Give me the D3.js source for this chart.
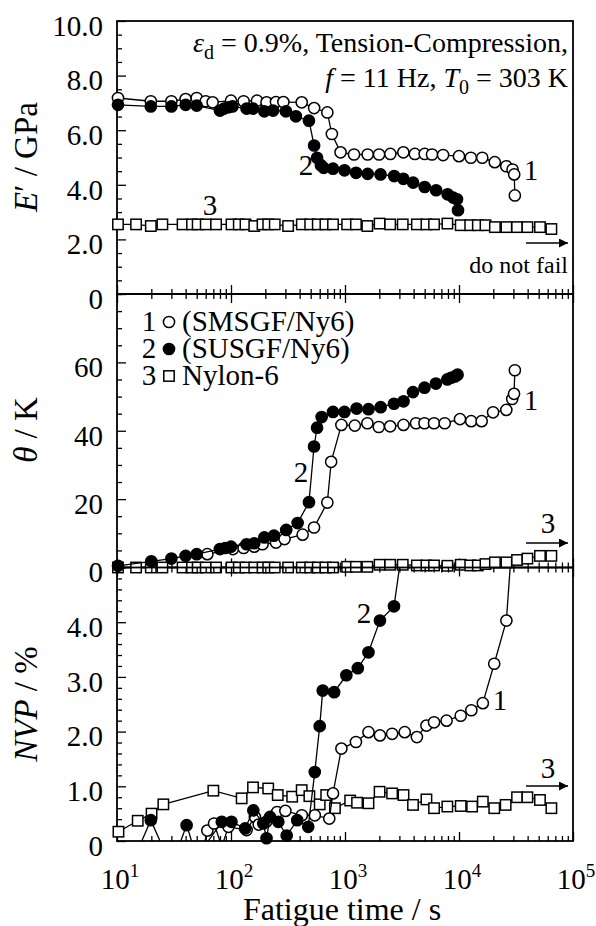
<!DOCTYPE html>
<html>
<head>
<meta charset="utf-8">
<script src="https://cdn.jsdelivr.net/npm/d3@7"></script>
<style>
body { margin: 0; background: #fff; }
svg { display: block; }
</style>
</head>
<body>
<svg id="chart" width="596" height="926"></svg>
<script>
// fatigue time (s) for Nylon-6 in E' and theta panels
const tNylon = [10.2, 14.7, 19.8, 25, 37.6, 45.5, 51, 60, 74, 101, 117, 134, 160, 189, 212, 242, 317, 418, 495, 577, 673, 785,
    1044, 1247, 1570, 2010, 2490, 3210, 4270, 5180, 6040, 7910, 10350, 12540, 14630, 17070, 20650, 26050, 32300, 39800, 51300, 64600];
const eNylon = [2.55, 2.55, 2.49, 2.55, 2.55, 2.55, 2.55, 2.55, 2.55, 2.55, 2.55, 2.55, 2.49, 2.55, 2.55, 2.55, 2.49, 2.55, 2.55, 2.55, 2.55, 2.55,
    2.55, 2.55, 2.49, 2.58, 2.55, 2.55, 2.55, 2.55, 2.55, 2.58, 2.52, 2.52, 2.52, 2.52, 2.45, 2.45, 2.45, 2.45, 2.45, 2.38];
const thNylon = [0, 0, 0, 0, 0, 0, 0, 0, 0, 0, 0, 0, 0, 0, 0, 0, 0, 0, 0, 0, 0, 0,
    0.2, 0.2, 0.2, 0.8, 0.8, 0.8, 0.6, 0.6, 0.6, 0.5, 0.8, 0.6, 0.6, 1.0, 1.5, 1.5, 2.2, 2.6, 3.4, 3.4];

// SMSGF/Ny6 (curve 1)
const tE1 = [10.2, 19.8, 30, 40, 50, 60, 69, 100, 129, 169, 205, 248, 288, 417, 536, 700, 767, 914, 1200, 1580,
    1990, 2500, 3250, 4100, 5000, 5800, 7250, 10000, 12700, 16000, 20600, 26000, 29500, 30500, 30900];
const e1 = [7.18, 7.06, 7.06, 7.14, 7.18, 7.06, 7.02, 7.08, 7.06, 7.08, 7.02, 7.03, 7.03, 7.02, 6.81, 6.65, 5.86, 5.19, 5.11, 5.11,
    5.11, 5.13, 5.19, 5.13, 5.13, 5.11, 5.09, 5.05, 4.99, 4.99, 4.83, 4.68, 4.56, 4.38, 3.61];
const tTh1 = [62, 104, 129, 160, 189, 248, 295, 425, 535, 700, 756, 930, 1219, 1571, 1978, 2490, 3260, 4200, 4980, 6040,
    7490, 10200, 12800, 15800, 19900, 26000, 29300, 30400, 30900];
const th1 = [3.9, 5.4, 5.7, 6.1, 6.8, 7.3, 8.3, 9.6, 11.7, 19.0, 30.9, 41.7, 41.5, 42.2, 41.1, 41.3, 41.7, 42.2, 42.2, 42.2,
    42.2, 43.4, 42.8, 42.8, 45.4, 46.1, 49.3, 50.8, 57.7];
const tN1 = [55, 62, 71, 83, 95, 137, 162, 175, 204, 254, 300, 418, 543, 728, 785, 930, 1247, 1607, 2025, 2590,
    3340, 4270, 5180, 6040, 7780, 10350, 12830, 16180, 20370, 26050, 29900];
const n1 = [-0.3, 0.19, 0.32, -0.1, 0.26, 0.2, 0.44, 0.30, 0.35, 0.53, 0.55, 0.47, 0.47, 0.41, 0.87, 1.69, 1.81, 1.99, 1.93, 1.96,
    1.99, 1.90, 2.11, 2.17, 2.20, 2.29, 2.39, 2.52, 3.24, 4.03, 5.8];

// SUSGF/Ny6 (curve 2)
const tE2 = [10.2, 19.8, 30, 40, 50, 80, 87, 95, 103, 137, 156, 196, 234, 303, 371, 483, 536, 569, 615, 650,
    785, 990, 1250, 1580, 2050, 2700, 3250, 3960, 5000, 6300, 7950, 8900, 9600, 9800];
const e2 = [6.93, 6.87, 6.87, 6.93, 6.90, 6.72, 6.79, 6.84, 6.87, 6.79, 6.79, 6.69, 6.72, 6.69, 6.51, 6.35, 5.44, 4.99, 4.72, 4.62,
    4.59, 4.53, 4.44, 4.40, 4.38, 4.32, 4.22, 4.08, 3.92, 3.80, 3.65, 3.53, 3.47, 3.07];
const tTh2 = [10.2, 20, 30, 40, 50, 80, 89, 100, 137, 160, 196, 238, 305, 384, 483, 535, 569, 624, 785, 989, 1264,
    1607, 2055, 2690, 3260, 3950, 4980, 6270, 7900, 8520, 9220, 9720];
const th2 = [0.5, 1.8, 2.6, 3.4, 3.9, 5.4, 5.7, 6.1, 6.8, 7.1, 8.8, 9.3, 11.0, 13.0, 19.1, 35.4, 40.9, 44.0, 45.5, 45.5, 46.5,
    46.3, 46.9, 47.9, 48.6, 51.3, 52.6, 53.8, 55.0, 55.5, 55.9, 56.4];
const tN2 = [10.2, 19.8, 30, 40.8, 50, 83, 101, 133, 157, 192, 205, 220, 260, 308, 381, 476, 543, 600, 638, 803,
    1028, 1295, 1607, 2025, 2690, 3250];
const n2 = [-1.0, 0.38, -0.47, 0.29, -0.3, 0.35, 0.35, 0.23, 0.56, 0.32, 0.05, 0.44, 0.35, 0.1, 0.38, 0.26, 1.26, 2.10, 2.75, 2.72,
    3.03, 3.16, 3.45, 4.03, 4.29, 5.5];

// Nylon-6 NVP (curve 3)
const tN3 = [10.3, 15.2, 20.1, 25.5, 70, 124, 156, 212, 257, 344, 417, 487, 600, 684, 816, 1110, 1276, 1607, 2010, 2590,
    3260, 3950, 5180, 6040, 7900, 10350, 13030, 16180, 20380, 25660, 32300, 39800, 51300, 64600];
const n3 = [0.17, 0.37, 0.50, 0.67, 0.92, 0.78, 0.98, 0.96, 0.84, 0.81, 0.93, 0.82, 0.67, 0.84, 0.60, 0.74, 0.70, 0.69, 0.90, 0.87,
    0.84, 0.66, 0.76, 0.60, 0.63, 0.64, 0.63, 0.72, 0.60, 0.66, 0.80, 0.80, 0.75, 0.60];

const legendLabels = ["(SMSGF/Ny6)", "(SUSGF/Ny6)", "Nylon-6"];

const serif = "Liberation Serif";
const svg = d3.select("#chart");
const plotLeft = 117;
const plotRight = 573;

const x = d3.scaleLog().domain([10, 1e5]).range([plotLeft, plotRight]);

const panels = [
    {
        top: 21, bottom: 294, domain: [0, 10], minorStep: 0.5, labels: [0, 2, 4, 6, 8, 10],
        fmt: d => d === 0 ? "0" : d.toFixed(1),
        series: [
            { t: tNylon, v: eNylon, kind: "square" },
            { t: tE1, v: e1, kind: "open" },
            { t: tE2, v: e2, kind: "filled" }
        ],
        topTicks: false
    },
    {
        top: 294, bottom: 567.5, domain: [0, 80], minorStep: 5, labels: [0, 20, 40, 60],
        fmt: d => String(d),
        series: [
            { t: tNylon, v: thNylon, kind: "square" },
            { t: tTh1, v: th1, kind: "open" },
            { t: tTh2, v: th2, kind: "filled" }
        ],
        topTicks: true
    },
    {
        top: 567.5, bottom: 841, domain: [0, 5], minorStep: 0.2, labels: [0, 1, 2, 3, 4],
        fmt: d => d === 0 ? "0" : d.toFixed(1),
        series: [
            { t: tN3, v: n3, kind: "square" },
            { t: tN1, v: n1, kind: "open" },
            { t: tN2, v: n2, kind: "filled" }
        ],
        topTicks: true
    }
];

const decades = x.ticks().filter(d => Math.abs(Math.log10(d) - Math.round(Math.log10(d))) < 1e-9);
const minorX = x.ticks().filter(d => !decades.includes(d));

function addText(sel, size) {
    return sel.append("text")
        .attr("font-family", serif)
        .attr("font-size", size)
        .attr("fill", "#000");
}

function drawMarker(sel, kind) {
    if (kind === "square") {
        sel.append("rect")
            .attr("x", -5.2).attr("y", -5.2)
            .attr("width", 10.4).attr("height", 10.4)
            .attr("fill", "#fff").attr("stroke", "#000").attr("stroke-width", 1.5);
    } else {
        sel.append("circle")
            .attr("r", 5.6)
            .attr("fill", kind === "filled" ? "#000" : "#fff")
            .attr("stroke", "#000").attr("stroke-width", 1.5);
    }
}

panels.forEach((p, i) => {
    const y = d3.scaleLinear().domain(p.domain).range([p.bottom, p.top]);
    const g = svg.append("g");

    const clipId = "clip" + i;
    svg.append("clipPath").attr("id", clipId)
        .append("rect")
        .attr("x", plotLeft).attr("y", p.top)
        .attr("width", plotRight - plotLeft).attr("height", p.bottom - p.top);

    // minor y ticks
    const minorY = d3.range(p.domain[0], p.domain[1] + p.minorStep / 2, p.minorStep)
        .filter(d => !p.labels.some(l => Math.abs(l - d) < 1e-9));
    g.append("g")
        .attr("transform", `translate(${plotLeft},0)`)
        .call(d3.axisLeft(y).tickValues(minorY).tickSizeInner(-5).tickSizeOuter(0).tickFormat(""))
        .call(a => a.select(".domain").remove())
        .call(a => a.selectAll("line").attr("stroke-width", 1.3));

    // major y ticks + labels
    g.append("g")
        .attr("transform", `translate(${plotLeft},0)`)
        .call(d3.axisLeft(y).tickValues(p.labels).tickSizeInner(-9).tickSizeOuter(0).tickPadding(14).tickFormat(p.fmt))
        .call(a => a.select(".domain").remove())
        .call(a => a.attr("font-family", serif).attr("font-size", 29))
        .call(a => a.selectAll("line").attr("stroke-width", 1.3))
        .call(a => a.selectAll("text")
            .attr("y", 5)
            .attr("font-family", serif)
            .attr("font-size", 29));

    // x ticks at bottom (inward), and on top for the lower panels
    const tickSets = [[minorX, -5], [decades, -9]];
    tickSets.forEach(([vals, len]) => {
        g.append("g")
            .attr("transform", `translate(0,${p.bottom})`)
            .call(d3.axisBottom(x).tickValues(vals).tickSizeInner(len).tickSizeOuter(0).tickFormat(""))
            .call(a => a.select(".domain").remove())
            .call(a => a.selectAll("line").attr("stroke-width", 1.3));
        if (p.topTicks) {
            g.append("g")
                .attr("transform", `translate(0,${p.top})`)
                .call(d3.axisTop(x).tickValues(vals).tickSizeInner(len).tickSizeOuter(0).tickFormat(""))
                .call(a => a.select(".domain").remove())
                .call(a => a.selectAll("line").attr("stroke-width", 1.3));
        }
    });

    // frame
    g.append("rect")
        .attr("x", plotLeft).attr("y", p.top)
        .attr("width", plotRight - plotLeft).attr("height", p.bottom - p.top)
        .attr("fill", "none").attr("stroke", "#000").attr("stroke-width", 1.8);

    const line = d3.line().x(d => x(d[0])).y(d => y(d[1]));

    p.series.forEach(s => {
        const pts = s.t.map((t, j) => [t, s.v[j]]);
        g.append("path")
            .datum(pts)
            .attr("d", line)
            .attr("fill", "none")
            .attr("stroke", "#000")
            .attr("stroke-width", 1.3)
            .attr("clip-path", `url(#${clipId})`);

        const inside = pts.filter(d => d[1] >= p.domain[0] - 0.0001 && d[1] <= p.domain[1]);
        const m = g.selectAll(null)
            .data(inside)
            .enter()
            .append("g")
            .attr("transform", d => `translate(${x(d[0])},${y(d[1])})`);
        drawMarker(m, s.kind);
    });
});

// x tick labels on bottom panel
decades.forEach(d => {
    const txt = addText(svg, 29)
        .attr("x", x(d) + 3)
        .attr("y", 889)
        .attr("text-anchor", "middle");
    txt.append("tspan").text("10");
    txt.append("tspan").attr("dy", -12).attr("font-size", 19).text(Math.round(Math.log10(d)));
});

addText(svg, 32)
    .attr("x", 342).attr("y", 920)
    .attr("text-anchor", "middle")
    .text("Fatigue time / s");

// y titles
function yTitle(cy, parts) {
    const t = addText(svg, 33)
        .attr("transform", `translate(37,${cy}) rotate(-90)`)
        .attr("text-anchor", "middle");
    parts.forEach(([s, italic]) => {
        t.append("tspan").attr("font-style", italic ? "italic" : "normal").text(s);
    });
}
yTitle(157, [["E", true], ["\u2032 / GPa", false]]);
yTitle(430, [["\u03b8", true], [" / K", false]]);
yTitle(704, [["NVP", true], [" / %", false]]);

// annotation panel 1
const a1 = addText(svg, 28)
    .attr("x", 568).attr("y", 52)
    .attr("text-anchor", "end");
a1.append("tspan").attr("font-style", "italic").text("\u03b5");
a1.append("tspan").attr("dy", 7).attr("font-size", 20).text("d");
a1.append("tspan").attr("dy", -7).text(" = 0.9%, Tension-Compression,");

const a2 = addText(svg, 28)
    .attr("x", 568).attr("y", 87)
    .attr("text-anchor", "end");
a2.append("tspan").attr("font-style", "italic").text("f");
a2.append("tspan").text(" = 11 Hz, ");
a2.append("tspan").attr("font-style", "italic").text("T");
a2.append("tspan").attr("dy", 7).attr("font-size", 20).text("0");
a2.append("tspan").attr("dy", -7).text(" = 303 K");

// curve numbers
const curveLabels = [
    { x: 531, y: 180, s: "1" },
    { x: 306, y: 175, s: "2" },
    { x: 210, y: 215, s: "3" },
    { x: 301, y: 482, s: "2" },
    { x: 531, y: 410, s: "1" },
    { x: 548, y: 533, s: "3" },
    { x: 364, y: 623, s: "2" },
    { x: 500, y: 710, s: "1" },
    { x: 548, y: 778, s: "3" }
];
curveLabels.forEach(d => {
    addText(svg, 29)
        .attr("x", d.x).attr("y", d.y)
        .attr("text-anchor", "middle")
        .text(d.s);
});

// arrows
svg.append("defs").append("marker")
    .attr("id", "head")
    .attr("viewBox", "0 0 10 10")
    .attr("refX", 10).attr("refY", 5)
    .attr("markerWidth", 15).attr("markerHeight", 9)
    .attr("markerUnits", "userSpaceOnUse")
    .attr("orient", "auto")
    .append("path").attr("d", "M0,0 L10,5 L0,10 Z").attr("fill", "#000");

[243, 543, 786].forEach(yy => {
    svg.append("line")
        .attr("x1", 526).attr("x2", 568)
        .attr("y1", yy).attr("y2", yy)
        .attr("stroke", "#000").attr("stroke-width", 1.5)
        .attr("marker-end", "url(#head)");
});

addText(svg, 24)
    .attr("x", 568).attr("y", 273)
    .attr("text-anchor", "end")
    .text("do not fail");

// legend in theta panel
const kinds = ["open", "filled", "square"];
legendLabels.forEach((lab, i) => {
    const ly = 322 + i * 27;
    addText(svg, 29)
        .attr("x", 149).attr("y", ly + 9)
        .attr("text-anchor", "middle")
        .text(String(i + 1));
    const m = svg.append("g").attr("transform", `translate(169,${ly})`);
    drawMarker(m, kinds[i]);
    addText(svg, 29)
        .attr("x", 182).attr("y", ly + 9)
        .text(lab);
});
</script>
</body>
</html>
